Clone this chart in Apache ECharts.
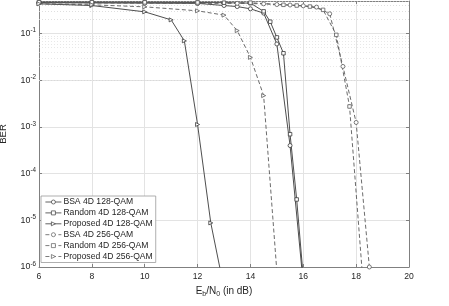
<!DOCTYPE html>
<html>
<head>
<meta charset="utf-8">
<script src="https://cdn.jsdelivr.net/npm/echarts@6/dist/echarts.min.js"></script>
<style>html,body{margin:0;padding:0;background:#fff}#c{width:449px;height:306px}</style>
</head>
<body>
<div id="c"></div>
<script>
// ---- data (Eb/N0 in dB, BER) ----
const seriesNames = ['BSA 4D 128-QAM','Random 4D 128-QAM','Proposed 4D 128-QAM','BSA 4D 256-QAM','Random 4D 256-QAM','Proposed 4D 256-QAM'];

const bsa128X = [6, 8, 10, 12, 13, 13.5, 14, 14.5, 15, 15.5, 16];
const bsa128Y = [0.46, 0.455, 0.45, 0.445, 0.40, 0.38, 0.34, 0.275, 0.06, 4.0e-4, 4.3e-7];

const rand128X = [6, 8, 10, 12, 13, 14, 14.5, 14.75, 15, 15.25, 15.5, 15.75, 16];
const rand128Y = [0.47, 0.47, 0.468, 0.465, 0.46, 0.45, 0.30, 0.18, 0.083, 0.038, 7e-4, 2.8e-5, 6e-7];

const prop128X = [6, 8, 10, 11, 11.5, 12, 12.5, 13];
const prop128Y = [0.435, 0.40, 0.293, 0.197, 0.070, 1.13e-3, 8.8e-6, 3.5e-7];

const bsa256X = [6, 8, 10, 12, 13.5, 14.5, 15, 15.5, 16, 16.5, 17, 17.5, 18, 18.5];
const bsa256Y = [0.46, 0.455, 0.45, 0.445, 0.445, 0.435, 0.42, 0.41, 0.394, 0.37, 0.266, 0.0198, 1.25e-3, 1.0e-6];

const rand256X = [6, 8, 10, 12, 14, 15.25, 15.75, 16.25, 16.75, 17.25, 17.75, 18.25];
const rand256Y = [0.47, 0.47, 0.468, 0.465, 0.46, 0.414, 0.40, 0.38, 0.323, 0.094, 2.75e-3, 5.5e-7];

const prop256X = [6, 8, 10, 12, 13, 13.5, 14, 14.5, 15];
const prop256Y = [0.435, 0.414, 0.375, 0.308, 0.249, 0.116, 0.031, 4.7e-3, 8e-7];

const xTicks = [6, 8, 10, 12, 14, 16, 18, 20];

// ---- build ----
const zip = (xs, ys) => xs.map((x, i) => [x, ys[i]]);
const solid = '#3a3a3a', dashC = '#5a5a5a';
function mk(name, xs, ys, sym, dashed, rot) {
  const c = dashed ? dashC : solid;
  return {
    name: name, type: 'line', data: zip(xs, ys),
    symbol: sym, symbolSize: sym === 'rect' ? 3.5 : 4, symbolRotate: rot || 0,
    showAllSymbol: true, animation: false,
    lineStyle: { color: c, width: 0.9, type: dashed ? [4, 2.5] : 'solid' },
    itemStyle: { color: '#fff', borderColor: c, borderWidth: 0.8 },
    emphasis: { disabled: true }, z: 5
  };
}
const minor = [];
for (let d = -6; d <= -1; d++) for (let k = 2; k <= 9; k++) minor.push(k * Math.pow(10, d));
minor.push(0.2, 0.3, 0.4);

const chart = echarts.init(document.getElementById('c'), null, { renderer: 'canvas' });
const axisGray = '#808080', txt = '#262626';
chart.setOption({
  animation: false,
  backgroundColor: '#fff',
  grid: { left: 39, top: 1, width: 370, height: 266, show: false, containLabel: false, outerBoundsMode: 'none' },
  legend: {
    data: seriesNames, orient: 'vertical', left: 41, top: 196,
    itemWidth: 16, itemHeight: 5, itemGap: 0.9,
    padding: [1, 3, 1, 4], borderColor: '#9a9a9a', borderWidth: 0.8, backgroundColor: '#fff',
    itemStyle: { borderWidth: 0.7 },
    lineStyle: { width: 0.8 },
    textStyle: { fontSize: 8.6, color: txt, fontFamily: 'Liberation Sans', lineHeight: 10, padding: [0, 0, 0, -3] },
    selectedMode: false
  },
  xAxis: [{
    type: 'value', min: 6, max: 20, interval: 2, position: 'bottom',
    name: '{a|E}{s|b}{a|/N}{s|0}{a| (in dB)}', nameLocation: 'middle', nameGap: 13,
    nameTextStyle: { rich: {
      a: { fontSize: 10, color: txt, fontFamily: 'Liberation Sans' },
      s: { fontSize: 7, color: txt, fontFamily: 'Liberation Sans', padding: [6, 0, 0, 0] } } },
    axisLine: { show: true, lineStyle: { color: axisGray, width: 1 } },
    axisTick: { inside: true, length: 3, lineStyle: { color: axisGray } },
    axisLabel: { fontSize: 8.6, color: txt, margin: 5, fontFamily: 'Liberation Sans' },
    splitLine: { show: true, lineStyle: { color: '#e3e3e3', width: 1 } }
  }, {
    type: 'value', min: 6, max: 20, interval: 2, position: 'top',
    axisLine: { show: true, onZero: false, lineStyle: { color: axisGray, width: 1 } },
    axisTick: { inside: true, length: 3, lineStyle: { color: axisGray } },
    axisLabel: { show: false }, splitLine: { show: false }
  }],
  yAxis: [{
    type: 'log', min: 1e-6, max: 0.5, logBase: 10, interval: 1, position: 'left',
    name: 'BER', nameLocation: 'middle', nameGap: 31, nameRotate: 90, nameMoveOverlap: false,
    nameTextStyle: { fontSize: 9.5, color: txt, fontFamily: 'Liberation Sans' },
    axisLine: { show: true, lineStyle: { color: axisGray, width: 1 } },
    axisTick: { inside: true, length: 3, lineStyle: { color: axisGray } },
    axisLabel: {
      margin: 3, showMaxLabel: false,
      formatter: function (v) {
        const l = Math.log10(v), e = Math.round(l);
        if (Math.abs(l - e) > 1e-6) return '';
        return '{b|10}{s|' + e + '}';
      },
      rich: {
        b: { fontSize: 8.8, color: txt, fontFamily: 'Liberation Sans' },
        s: { fontSize: 6.3, color: txt, fontFamily: 'Liberation Sans', padding: [0, 0, 6, 0] }
      }
    },
    splitLine: { show: true, lineStyle: { color: '#e3e3e3', width: 1 } }
  }, {
    type: 'log', min: 1e-6, max: 0.5, logBase: 10, interval: 1, position: 'right',
    axisLine: { show: true, onZero: false, lineStyle: { color: axisGray, width: 1 } },
    axisTick: { inside: true, length: 3, lineStyle: { color: axisGray } },
    axisLabel: { show: false }, splitLine: { show: false }
  }],
  series: [
    {
      name: '_grid', type: 'line', data: [], silent: true, z: 1,
      markLine: {
        silent: true, symbol: 'none', animation: false, label: { show: false },
        lineStyle: { type: [1, 2], color: '#d9d9d9', width: 0.6 },
        data: minor.map(v => ({ yAxis: v }))
      }
    },
    mk(seriesNames[0], bsa128X, bsa128Y, 'circle', false),
    mk(seriesNames[1], rand128X, rand128Y, 'rect', false),
    mk(seriesNames[2], prop128X, prop128Y, 'triangle', false, -90),
    mk(seriesNames[3], bsa256X, bsa256Y, 'circle', true),
    mk(seriesNames[4], rand256X, rand256Y, 'rect', true),
    mk(seriesNames[5], prop256X, prop256Y, 'triangle', true, -90)
  ]
});
</script>
</body>
</html>
